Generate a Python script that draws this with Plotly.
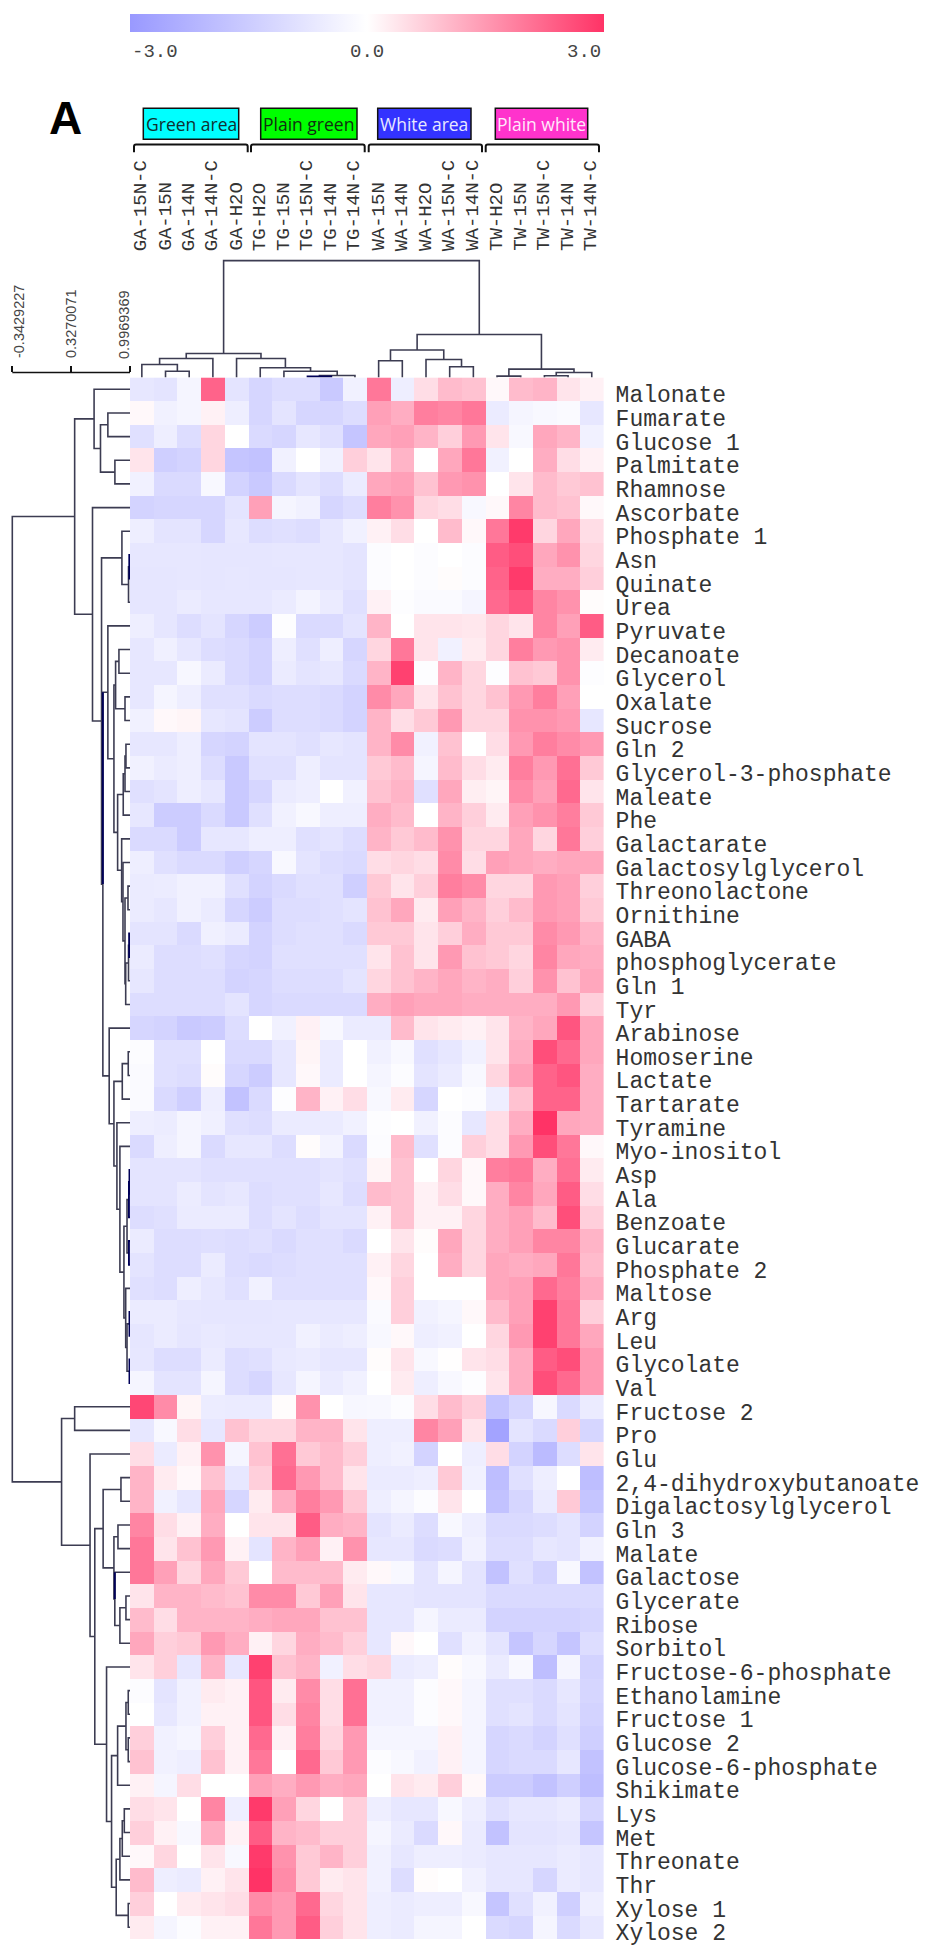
import plotly.graph_objects as go

W, H = 931, 1955

col_labels = ["GA-15N-C","GA-15N","GA-14N","GA-14N-C","GA-H2O","TG-H2O","TG-15N","TG-15N-C","TG-14N","TG-14N-C",
              "WA-15N","WA-14N","WA-H2O","WA-15N-C","WA-14N-C","TW-H2O","TW-15N","TW-15N-C","TW-14N","TW-14N-C"]
row_labels = ["Malonate","Fumarate","Glucose 1","Palmitate","Rhamnose","Ascorbate","Phosphate 1","Asn","Quinate","Urea",
              "Pyruvate","Decanoate","Glycerol","Oxalate","Sucrose","Gln 2","Glycerol-3-phosphate","Maleate","Phe","Galactarate",
              "Galactosylglycerol","Threonolactone","Ornithine","GABA","phosphoglycerate","Gln 1","Tyr","Arabinose","Homoserine","Lactate",
              "Tartarate","Tyramine","Myo-inositol","Asp","Ala","Benzoate","Glucarate","Phosphate 2","Maltose","Arg",
              "Leu","Glycolate","Val","Fructose 2","Pro","Glu","2,4-dihydroxybutanoate","Digalactosylglycerol","Gln 3","Malate",
              "Galactose","Glycerate","Ribose","Sorbitol","Fructose-6-phosphate","Ethanolamine","Fructose 1","Glucose 2","Glucose-6-phosphate","Shikimate",
              "Lys","Met","Threonate","Thr","Xylose 1","Xylose 2"]

heat_values = [
 [-.7,-.8,-.3,2.3,-.8,-1.2,-1,-1,-1.6,-.4, 2.0,-.5,.5,1.0,.9, .1,1.0,1.1,.4,.2],
 [.1,-.4,-.3,.2,-.5,-1.2,-.8,-1.2,-1.2,-1.0, 1.4,1.2,1.9,1.8,2.0, -.6,-.3,-.2,-.15,-.7],
 [-.9,-.5,-1.0,.6,0,-1.1,-1.2,-.7,-.9,-1.7, 1.3,1.4,1.1,.7,1.5, .4,-.2,1.3,1.1,-.4],
 [.4,-1.4,-1.3,.6,-1.7,-1.8,-.4,0,-.4,.7, .4,1.1,0,1.3,2.0, -.4,0,1.2,.5,.2],
 [-.4,-1.1,-1.1,-.2,-1.3,-1.6,-1.1,-.8,-1.0,-.6, 1.3,1.4,.9,1.5,1.6, 0,.4,1.0,.8,.9],
 [-1.3,-1.2,-1.2,-1.2,-.8,1.4,-.3,-.4,-1.2,-1.0, 1.9,1.6,.6,.5,-.2, .1,1.8,1.0,.9,.1],
 [-.5,-.8,-.8,-1.2,-.7,-1.0,-.9,-1.0,-.7,-.4, .2,.5,0,1.0,.1, 2.0,2.9,.6,1.3,.5],
 [-.7,-.7,-.7,-.75,-.75,-.75,-.7,-.7,-.7,-.8, -.1,0,-.1,0,-.1, 2.4,2.6,1.3,1.6,.6],
 [-.75,-.75,-.7,-.75,-.7,-.75,-.75,-.7,-.7,-.8, -.1,0,-.1,.05,-.1, 2.3,2.9,1.2,1.2,.7],
 [-.75,-.75,-.6,-.7,-.7,-.7,-.6,-.35,-.6,-.9, .2,-.05,-.15,-.15,-.3, 2.2,2.5,1.8,1.6,.05],
 [-.5,-.75,-1.0,-.8,-1.2,-1.5,-.05,-1.1,-1.1,-.8, 1.1,0,.4,.4,.35, .6,.4,1.8,1.4,2.4],
 [-.7,-.45,-.7,-1,-1.1,-1.3,-.5,-.9,-.5,-1.2, .6,2.0,.4,-.4,.3, .6,1.9,1.5,1.6,.3],
 [-.7,-.7,-.25,-.6,-1.1,-1.3,-.6,-.8,-.7,-1.1, 1.1,2.8,-.05,1.1,.6, -.05,.9,.8,1.6,-.05],
 [-.7,-.3,-.5,-.9,-.9,-1.1,-1.0,-1.0,-1.1,-1.3, 1.7,1.3,.4,.9,.6, .9,1.5,1.9,1.4,0],
 [-.4,.1,.15,-.7,-.8,-1.5,-1.0,-1.0,-1.1,-1.3, 1.1,.5,.8,1.5,.6, .6,1.6,1.6,1.5,-.7],
 [-.7,-.7,-.5,-1.2,-1.3,-.8,-.8,-.9,-.7,-.8, 1.1,1.7,-.4,.9,0, .5,1.5,1.9,1.7,1.5],
 [-.4,-.6,-.5,-1,-1.6,-.9,-.9,-.5,-.8,-.8, .8,1.0,-.3,1.0,.5, .3,1.9,1.5,2.1,.8],
 [-.9,-.8,-.5,-.7,-1.6,-1.2,-.6,-.5,0,-.4, .9,1.1,-.9,1.3,.25, .15,1.7,1.4,2.2,.4],
 [-.7,-1.5,-1.5,-1.1,-1.6,-.9,-.4,-.2,-.5,-.5, 1.2,1.0,0,1.1,.7, .3,1.4,1.6,1.9,.8],
 [-1.1,-1.1,-1.5,-.7,-.7,-.5,-.5,-.9,-.8,-1.0, 1.1,.8,1.0,1.6,.6, .6,1.3,.6,2.0,.7],
 [-.5,-.9,-1.1,-1.1,-1.4,-1.2,-.2,-.8,-1.0,-1.1, .5,.6,.5,1.7,.5, 1.4,1.3,1.2,1.3,1.3],
 [-.6,-.55,-.4,-.4,-.9,-1.3,-1.1,-.9,-.9,-1.4, .8,.4,.7,1.9,1.7, .6,.6,1.5,1.4,.7],
 [-.6,-.7,-.4,-.6,-1.2,-1.5,-1.0,-1.0,-.9,-.8, .9,1.3,.3,1.4,1.1, .7,1.0,1.5,1.4,.8],
 [-.8,-.8,-1.1,-.45,-.6,-1.3,-1.0,-.9,-.9,-1.1, .8,.8,.4,.7,1.2, .8,.8,1.7,1.5,1.1],
 [-.6,-1,-1,-.9,-1.2,-1.3,-.9,-.9,-.9,-.9, .4,.9,.4,1.5,.9, .8,.6,1.8,1.3,1.2],
 [-.7,-1,-1,-1,-1.3,-1.2,-1,-1,-1,-.8, .6,.9,1.1,1.3,1.1, 1.2,.7,1.6,.9,1.3],
 [-1,-1,-1,-1,-.8,-1.2,-1.1,-1.1,-1.1,-1.1, 1.2,1.4,1.3,1.3,1.2, 1.2,1.2,1.2,1.5,.7],
 [-1.2,-1.3,-1.6,-1.5,-1.0,0,-.4,.2,-.2,-.6, -.6,1.0,.4,.3,.2, .4,1.1,1.3,2.5,1.3],
 [-.1,-.9,-.9,0,-1.1,-1.1,-.7,.15,-.6,0, -.4,-.2,-.9,-.7,-.4, .4,1.2,2.6,2.2,1.3],
 [-.15,-.9,-1.0,.05,-1.2,-1.5,-.7,.1,-.6,0, -.3,-.1,-.8,-.6,-.2, .6,1.4,2.3,2.5,1.2],
 [-.15,-1.1,-1.4,-.5,-1.8,-1.1,-.05,1.1,.2,.5, -.2,.3,-1.2,0,-.1, -.5,.9,2.3,2.3,1.2],
 [-.5,-.55,-.3,-.45,-.9,-1,-.6,-.6,-.6,-.4, -.05,0,-.4,-.1,-.7, .5,1.2,3.0,1.3,1.2],
 [-1.1,-.5,-.3,-1.1,-.7,-.7,-1.0,.05,-.35,-1.1, -.1,1.0,-.9,-.1,.7, .5,1.5,2.6,2.0,.1],
 [-.8,-.8,-.8,-.9,-.9,-.9,-.9,-.9,-.8,-.9, .15,.9,0,.6,.1, 1.9,2.0,1.2,2.1,.3],
 [-.8,-.8,-.55,-.8,-.7,-1,-.9,-.9,-.7,-1.0, 1.0,.9,.2,.5,.1, 1.2,1.8,1.3,2.4,.5],
 [-1,-.9,-.6,-.6,-.6,-1,-.8,-1,-.8,-.8, .2,.9,.2,.2,.6, 1.2,1.4,1.0,2.6,.7],
 [-.6,-1,-1,-.95,-1,-.9,-1.1,-.9,-.9,-1.1, 0,.4,.05,1.3,.6, 1.2,1.4,1.8,1.8,1.1],
 [-.8,-1,-1,-.6,-1,-1.1,-1,-.9,-.9,-.9, .2,.6,0,1.2,.6, 1.3,1.2,1.3,2.0,1.0],
 [-.9,-1,-.5,-.7,-.9,-.4,-.9,-.9,-.9,-.9, .1,.7,0,0,0, 1.3,1.4,2.2,1.9,1.2],
 [-.6,-.6,-.7,-.75,-.75,-.75,-.7,-.7,-.7,-.7, -.15,.7,-.4,-.3,.1, 1.0,1.4,2.8,2.0,.7],
 [-.75,-.6,-.75,-.65,-.7,-.7,-.7,-.4,-.6,-.5, -.2,.1,-.5,-.4,0, .6,1.5,2.8,2.0,1.3],
 [-.7,-1,-1,-.6,-1,-.9,-.65,-.6,-.7,-.7, .05,.4,-.2,.02,.4, .5,1.2,2.4,2.6,1.5],
 [-.3,-.8,-.8,-.3,-1,-1.2,-.7,-.3,-.6,-.4, 0,.3,-.5,-.2,-.05, .4,1.2,2.6,2.2,1.5],
 [2.7,1.7,.15,-.55,-.6,-.6,.05,1.6,0,-.25, -.2,-.1,.5,1.0,.7, -1.7,-1.2,-.25,-1.1,-.6],
 [-.7,-.2,.5,-.7,.9,.6,.6,1.1,1.1,.4, -.5,-.5,1.8,1.4,.4, -2.7,-.8,-1.1,.7,-1.2],
 [.5,-.6,.2,1.6,-.3,.9,2.1,.8,1.0,.7, -.5,-.4,-1.3,0,-.5, .5,-1.3,-2.0,-1.0,.4],
 [1.1,.3,.1,.9,-.7,.7,2.2,1.5,1.0,.4, -.6,-.6,-.5,.8,-.4, -1.9,-.9,-.5,0,-1.9],
 [1.1,-.4,-.7,1.3,-1.2,.3,1.2,1.9,1.5,.8, -.5,-.3,-.1,.4,0, -1.8,-1.2,-.6,.8,-1.7],
 [1.8,.5,.2,1.2,0,.4,.4,2.4,1.2,1.1, -.8,-.6,-1,-.2,-.5, -1.1,-1.1,-1.0,-.8,-1.3],
 [2.0,.4,.9,1.5,.2,-.8,1.1,1.4,.2,1.6, -.7,-.7,-1.1,-1.0,-.4, -1.0,-1.0,-.7,-.8,-.4],
 [2.0,1.4,.6,1.3,.8,0,1.0,1.0,1.0,.3, .1,-.2,-.8,-.3,-.8, -1.8,-.9,-1.3,-.2,-1.8],
 [.4,1.1,1.1,1.0,.9,1.7,1.7,.8,1.4,.4, -.7,-.7,-.8,-.8,-.8, -1.1,-1.1,-1.1,-1.1,-1.1],
 [1.0,.5,1.1,1.1,1.1,1.2,1.3,1.3,.9,.9, -.7,-.7,-.3,-.6,-.6, -1.3,-1.3,-1.3,-1.3,-1.2],
 [1.3,.7,.8,1.5,1.2,.2,.6,1.2,1.0,.7, -.7,.1,0,-.9,-.4, -.8,-1.7,-1.2,-1.7,-1.0],
 [.4,.7,-.7,1.1,-.7,2.8,.9,1.1,-.4,.5, .6,-.6,-.5,.05,-.2, -.6,-.2,-1.9,-.3,-1.3],
 [-.1,-.8,-.4,.3,.2,2.5,.3,1.7,.5,2.1, -.4,-.4,-.1,.1,-.3, -.9,-.9,-1.1,-.7,-1.2],
 [0,-.7,-.4,.2,.2,2.5,.5,1.8,.5,2.1, -.4,-.4,-.1,.1,-.3, -.9,-.8,-1.1,-.8,-1.3],
 [.7,-.4,-.3,.7,.2,2.2,.2,1.9,.6,1.5, -.3,-.3,-.3,.2,-.3, -1.2,-1.1,-1.3,-.9,-1.4],
 [.9,-.4,-.5,.9,.2,2.0,0,2.2,.8,1.5, -.1,-.2,-.4,.2,-.3, -1.2,-1.1,-1.1,-.7,-1.8],
 [.2,-.3,.5,0,0,1.4,1.2,1.5,1.2,1.3, 0,.4,.3,.7,.1, -1.5,-1.5,-1.8,-1.4,-1.9],
 [.5,.4,0,1.8,-.5,2.9,1.4,.6,0,.7, -.5,-.7,-.7,-.2,-.5, -.9,-.7,-.7,-.6,-1.2],
 [.7,.2,-.2,1.2,.2,2.4,1.1,1.0,.7,.7, -.3,-.6,-1.1,.1,-.6, -1.8,-.8,-.8,-.7,-1.7],
 [.1,.6,0,.4,-.2,2.9,1.6,.8,1.1,.7, -.4,-.7,-.5,-.5,-.6, -.7,-.7,-.7,-.6,-.7],
 [1.0,-.5,-.6,.2,.4,3.0,1.7,.8,.3,.4, -.4,-1,.05,0,-.4, -.7,-.7,-1.2,-.6,-.7],
 [.7,0,.3,.4,.5,1.7,1.5,2.2,.6,.4, -.5,-.6,-.5,-.5,-.2, -1.7,-.9,-.4,-1.4,-.5],
 [.3,-.3,-.1,.2,.2,2.0,1.5,2.4,.7,.4, -.5,-.6,-.3,-.3,0, -1.1,-1.2,-.3,-1.1,-.7],
]
assert len(heat_values) == 66 and all(len(r) == 20 for r in heat_values)

scale_ticks = [-0.3429227, 0.3270071, 0.9969369]
scale_text = ["-0.3429227", "0.3270071", "0.9969369"]
leaf_level = 0.9969369
group_names = ["Green area", "Plain green", "White area", "Plain white"]

# clustering trees: (similarity at the merge, child, child); ints are leaves
col_tree = (-.343,
    (.722,
        (.779, (.848, 0, (.925, 1, 2)), 3),
        (.779, 4, (.886, 5, (.925, 6, (.974, (.986, 7, 8), 9))))),
    (.505,
        (.682, (.806, 10, 11), (.791, 12, (.874, 13, 14))),
        (.902, (.982, 15, 16), (.940, (.978, 17, 18), 19))))

rows_a = (.588, 0, (.661, (.745, 1, 2), (.825, 3, 4)))
rows_c1 = (.905, 6, (.980, (.989, 7, 8), 9))
rows_x = (.833, (.871, 11, 12), (.940, 13, 14))
rows_y1 = (.920, (.940, (.951, 15, 16), 17), 18)
rows_y2 = (.902, 19, (.917, 20, (.940, (.974, 21, 22), (.948, (.980, (.987, 23, 24), 25), 26))))
rows_r = (.745, 10, (.814, rows_x, (.856, rows_y1, rows_y2)))
rows_t1 = (.909, (.977, 28, 29), 30)
rows_u = (.963, (.985, (.991, 33, 34), 35), (.985, 36, 37))
rows_l = (.948, 38, (.963, (.991, 39, 40), (.991, 41, 42)))
rows_t2 = (.848, 31, (.882, 32, (.928, rows_u, rows_l)))
rows_s = (.760, 27, (.814, rows_t1, rows_t2))
rows_b = (.570, 5, (.673, rows_c1, (.688, rows_r, rows_s)))
rows_upper = (.367, rows_a, rows_b)
rows_m = (.691, (.894, 46, 47), (.814, (.860, 48, 49), (.824, 50, (.882, (.951, 51, 52), 53))))
rows_n1 = (.856, (.951, (.977, 55, 56), (.977, 57, 58)), 59)
rows_n2 = (.840, (.882, (.909, (.932, 60, 61), 62), 63), (.977, 64, 65))
rows_n = (.730, 54, (.787, rows_n1, rows_n2))
rows_lower = (.218, (.367, 43, 44), (.542, 45, (.596, rows_m, rows_n)))
row_tree = (-.343, rows_upper, rows_lower)

# merges whose upper arm is drawn in the darker navy of the original
navy_arms = {.688, .824}


def bracket_lines(tree):
    """Walk a tree, return the elbow segments; pos is the leaf index."""
    light, dark = ([], []), ([], [])
    def walk(node):
        if isinstance(node, int):
            return node, leaf_level
        h, a, b = node
        pa, ha = walk(a)
        pb, hb = walk(b)
        tgt = dark if h >= .985 else light
        tgt[0].extend([ha, h, h, hb, None])
        tgt[1].extend([pa, pa, pb, pb, None])
        if h in navy_arms:
            dark[0].extend([h, h, None])
            dark[1].extend([pa, (pa + pb) / 2, None])
        return (pa + pb) / 2, h
    walk(tree)
    return light, dark


def px(x):
    return x / W


def py(y):
    return 1 - y / H


HL, HR, HT, HB = 130, 603.6, 379, 1947
LINE = "#3c3c52"
NAVY = "#000058"
MONO = "Liberation Mono"

fig = go.Figure()
fig.add_trace(go.Heatmap(
    z=heat_values, x=list(range(20)), y=list(range(66)), zmin=-3, zmax=3,
    colorscale=[[0, "rgb(153,153,255)"], [.5, "rgb(255,255,255)"], [1, "rgb(255,51,102)"]],
    hoverinfo="skip",
    colorbar=dict(orientation="h", x=px(130), xanchor="left", y=py(32), yanchor="bottom",
                  lenmode="pixels", len=473.6, thickness=18, thicknessmode="pixels",
                  outlinewidth=0, ticks="", showticklabels=False, xpad=0, ypad=0),
))

(lx, ly), (dx, dy) = bracket_lines(row_tree)
fig.add_trace(go.Scatter(x=lx, y=ly, xaxis="x2", yaxis="y", mode="lines", line=dict(color=LINE, width=1.6), hoverinfo="skip", showlegend=False))
fig.add_trace(go.Scatter(x=dx, y=dy, xaxis="x2", yaxis="y", mode="lines", line=dict(color=NAVY, width=1.9), hoverinfo="skip", showlegend=False))
(lx, ly), (dx, dy) = bracket_lines(col_tree)
fig.add_trace(go.Scatter(x=ly, y=lx, xaxis="x", yaxis="y3", mode="lines", line=dict(color=LINE, width=1.6), hoverinfo="skip", showlegend=False))
fig.add_trace(go.Scatter(x=dy, y=dx, xaxis="x", yaxis="y3", mode="lines", line=dict(color=NAVY, width=1.9), hoverinfo="skip", showlegend=False))

annotations = []
shapes = []
for i, name in enumerate(col_labels):
    annotations.append(dict(text=name, x=i, xref="x", y=py(254), yref="paper", yanchor="bottom", xanchor="center",
                            textangle=-90, showarrow=False, font=dict(family=MONO, size=19, color="#333333")))

boxes = [(143.3, 238.7, "#00FFFF", "#103030", 134, 247.7), (260.7, 357, "#00FF00", "#103010", 251, 364.7),
         (377.7, 471, "#3333FF", "#E8E8FF", 368.7, 482), (495.3, 587.7, "#FF33CC", "#FFE8FA", 485.7, 599)]
for name, (x0, x1, fill, tc, b0, b1) in zip(group_names, boxes):
    shapes.append(dict(type="rect", xref="paper", yref="paper", x0=px(x0), x1=px(x1), y0=py(139.7), y1=py(108.7),
                       fillcolor=fill, line=dict(color="#111111", width=1.5)))
    annotations.append(dict(text=name, xref="paper", yref="paper", x=px((x0 + x1) / 2), y=py(124.5), showarrow=False,
                            xanchor="center", yanchor="middle", font=dict(family="Open Sans", size=17.5, color=tc)))
    shapes.append(dict(type="path", xref="paper", yref="paper",
                       path=f"M {px(b0)} {py(153)} L {px(b0)} {py(147)} Q {px(b0)} {py(145)} {px(b0+2)} {py(145)} "
                            f"L {px(b1-2)} {py(145)} Q {px(b1)} {py(145)} {px(b1)} {py(147)} L {px(b1)} {py(153)}",
                       line=dict(color="#111111", width=2)))

annotations.append(dict(text="<b>A</b>", xref="paper", yref="paper", x=px(65), y=py(118.5), showarrow=False,
                        xanchor="center", yanchor="middle", font=dict(family="Liberation Sans", size=46, color="black")))
for txt, xp, anc in [("-3.0", 130, "left"), ("0.0", 367, "center"), ("3.0", 603, "right")]:
    annotations.append(dict(text=txt, xref="paper", yref="paper", x=px(xp), y=py(52), showarrow=False,
                            xanchor=anc, yanchor="middle",
                            font=dict(family=MONO, size=19, color="#444444")))
for txt, xp in zip(scale_text, [19, 71, 124]):
    annotations.append(dict(text=txt, xref="paper", yref="paper", x=px(xp), y=py(362), yanchor="bottom", xanchor="center",
                            textangle=-90, showarrow=False,
                            font=dict(family="Liberation Sans", size=14.5, color="#444444")))

# horizontal rule of the distance scale, spanning its three ticks
shapes.append(dict(type="line", xref="x2", yref="paper", x0=scale_ticks[0], x1=scale_ticks[2], y0=py(374), y1=py(374),
                   line=dict(color="#111111", width=1.5)))

fig.update_layout(
    width=W, height=H, margin=dict(l=0, r=0, t=0, b=0), paper_bgcolor="white", plot_bgcolor="rgba(0,0,0,0)",
    showlegend=False, annotations=annotations, shapes=shapes,
    xaxis=dict(domain=[px(HL), px(HR)], range=[-.5, 19.5], showgrid=False, zeroline=False, showticklabels=False,
               ticks="", anchor="y"),
    yaxis=dict(domain=[py(HB), py(HT)], range=[65.5, -.5], showgrid=False, zeroline=False, side="right", anchor="x",
               tickmode="array", tickvals=list(range(66)), ticktext=row_labels, ticks="", ticklabelstandoff=11,
               ticklabelshift=-5, ticklabeloverflow="allow", tickfont=dict(family=MONO, size=23, color="#333333")),
    xaxis2=dict(domain=[px(9.3), px(HL)], range=[-.3771, leaf_level], showgrid=False, zeroline=False, showticklabels=False,
                anchor="free", position=py(374), side="top", ticks="outside", ticklen=6, tickwidth=1.5, tickcolor="#111111",
                tickmode="array", tickvals=scale_ticks, showline=False),
    yaxis3=dict(domain=[py(HT), py(258.7)], range=[leaf_level, -.3771], showgrid=False, zeroline=False, showticklabels=False,
                ticks="", anchor="x"),
)

fig.write_html("out.html", config=dict(displayModeBar=False), post_script="document.body.style.margin='0';")
